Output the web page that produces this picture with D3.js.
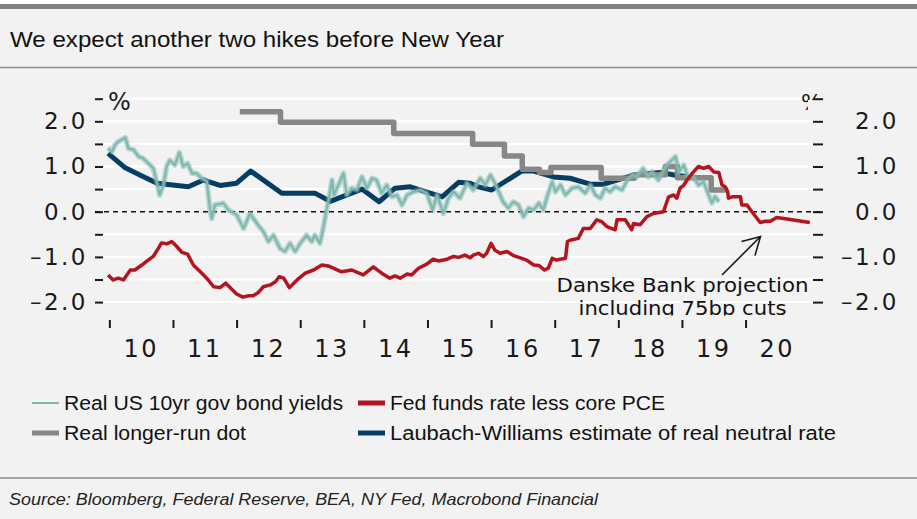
<!DOCTYPE html>
<html>
<head>
<meta charset="utf-8">
<script src="https://cdn.jsdelivr.net/npm/d3@7"></script>
<style>
  body { margin: 0; background: #f2f2f2; }
  svg { display: block; }
</style>
</head>
<body>
<div id="container"></div>
<script>
/* CONSTANTS AND GLOBALS */
const width = 917,
  height = 519,
  plot = { left: 103, right: 813, top: 98.7, bottom: 302.1 };

// DATA (decimal year, %)
const realYields10y = [
  [2009.98, 1.41], [2010.04, 1.33], [2010.09, 1.48], [2010.14, 1.55], [2010.25, 1.64],
  [2010.30, 1.40], [2010.38, 1.37], [2010.46, 1.22], [2010.53, 1.18], [2010.61, 1.07],
  [2010.69, 0.96], [2010.75, 0.63], [2010.79, 0.37], [2010.85, 0.59], [2010.90, 1.00],
  [2010.95, 1.14], [2011.03, 1.03], [2011.10, 1.31], [2011.16, 1.00], [2011.23, 1.07],
  [2011.30, 0.85], [2011.37, 0.85], [2011.45, 0.74], [2011.53, 0.68], [2011.58, 0.08],
  [2011.61, -0.15], [2011.66, 0.15], [2011.79, 0.19], [2011.87, 0.04], [2012.00, -0.07],
  [2012.11, -0.37], [2012.21, -0.04], [2012.32, -0.26], [2012.42, -0.44], [2012.50, -0.66],
  [2012.58, -0.52], [2012.68, -0.81], [2012.76, -0.88], [2012.84, -0.70], [2012.92, -0.88],
  [2013.00, -0.70], [2013.10, -0.52], [2013.18, -0.66], [2013.23, -0.52], [2013.31, -0.70],
  [2013.36, -0.37], [2013.42, 0.08], [2013.46, 0.37], [2013.50, 0.70], [2013.53, 0.37],
  [2013.60, 0.59], [2013.68, 0.85], [2013.73, 0.37], [2013.81, 0.52], [2013.89, 0.48],
  [2013.97, 0.77], [2014.05, 0.52], [2014.13, 0.74], [2014.20, 0.70], [2014.28, 0.41],
  [2014.36, 0.59], [2014.44, 0.33], [2014.52, 0.37], [2014.60, 0.15], [2014.68, 0.37],
  [2014.78, 0.44], [2014.89, 0.48], [2014.99, 0.41], [2015.08, 0.04], [2015.15, 0.37],
  [2015.25, -0.04], [2015.33, 0.30], [2015.41, 0.44], [2015.51, 0.30], [2015.62, 0.63],
  [2015.72, 0.48], [2015.83, 0.74], [2015.91, 0.59], [2015.99, 0.81], [2016.06, 0.63],
  [2016.12, 0.44], [2016.19, 0.22], [2016.27, 0.08], [2016.35, 0.22], [2016.43, 0.15],
  [2016.51, -0.11], [2016.59, 0.08], [2016.67, 0.04], [2016.75, 0.19], [2016.82, 0.04],
  [2016.89, 0.37], [2016.96, 0.66], [2017.01, 0.44], [2017.09, 0.59], [2017.17, 0.37],
  [2017.27, 0.52], [2017.37, 0.55], [2017.48, 0.41], [2017.56, 0.59], [2017.64, 0.37],
  [2017.72, 0.30], [2017.79, 0.52], [2017.87, 0.44], [2017.95, 0.55], [2018.06, 0.48],
  [2018.14, 0.70], [2018.21, 0.81], [2018.29, 0.77], [2018.39, 0.96], [2018.47, 0.77],
  [2018.53, 0.88], [2018.63, 0.70], [2018.74, 1.00], [2018.82, 1.11], [2018.90, 1.22],
  [2018.95, 0.88], [2019.03, 1.03], [2019.10, 0.74], [2019.18, 0.77], [2019.26, 0.59],
  [2019.34, 0.66], [2019.42, 0.37], [2019.47, 0.19], [2019.52, 0.33], [2019.58, 0.22]
];

const fedFundsLessPCE = [
  [2009.98, -1.40], [2010.06, -1.51], [2010.14, -1.47], [2010.22, -1.51], [2010.33, -1.29],
  [2010.40, -1.29], [2010.51, -1.18], [2010.61, -1.07], [2010.69, -0.99], [2010.77, -0.81],
  [2010.82, -0.69], [2010.90, -0.71], [2010.98, -0.66], [2011.06, -0.77], [2011.14, -0.90],
  [2011.23, -0.94], [2011.32, -1.18], [2011.43, -1.33], [2011.53, -1.47], [2011.64, -1.66],
  [2011.74, -1.68], [2011.83, -1.58], [2011.92, -1.71], [2012.00, -1.82], [2012.10, -1.89],
  [2012.19, -1.86], [2012.26, -1.86], [2012.34, -1.79], [2012.42, -1.66], [2012.53, -1.62],
  [2012.61, -1.55], [2012.67, -1.44], [2012.74, -1.47], [2012.83, -1.68], [2012.95, -1.51],
  [2013.08, -1.36], [2013.21, -1.29], [2013.34, -1.18], [2013.44, -1.20], [2013.52, -1.25],
  [2013.65, -1.33], [2013.81, -1.29], [2013.99, -1.40], [2014.15, -1.22], [2014.28, -1.36],
  [2014.41, -1.47], [2014.49, -1.42], [2014.57, -1.47], [2014.68, -1.38], [2014.75, -1.40],
  [2014.86, -1.25], [2014.99, -1.16], [2015.09, -1.05], [2015.17, -1.09], [2015.31, -1.05],
  [2015.41, -0.99], [2015.49, -1.01], [2015.59, -0.96], [2015.67, -1.02], [2015.72, -0.96],
  [2015.80, -0.92], [2015.88, -0.99], [2015.93, -0.92], [2016.00, -0.70], [2016.06, -0.85],
  [2016.14, -0.92], [2016.25, -0.88], [2016.35, -0.97], [2016.46, -1.02], [2016.56, -1.07],
  [2016.67, -1.18], [2016.75, -1.19], [2016.84, -1.29], [2016.90, -1.25], [2016.96, -1.03],
  [2017.03, -1.07], [2017.17, -1.03], [2017.20, -0.66], [2017.24, -0.63], [2017.37, -0.59],
  [2017.45, -0.37], [2017.56, -0.37], [2017.66, -0.18], [2017.74, -0.22], [2017.82, -0.33],
  [2017.95, -0.40], [2017.98, -0.18], [2018.11, -0.18], [2018.21, -0.40], [2018.24, -0.26],
  [2018.34, -0.29], [2018.45, -0.11], [2018.55, -0.04], [2018.71, 0.00], [2018.79, 0.33],
  [2018.87, 0.37], [2018.92, 0.30], [2018.97, 0.52], [2019.03, 0.59], [2019.08, 0.70],
  [2019.18, 0.88], [2019.26, 1.00], [2019.34, 0.96], [2019.42, 1.00], [2019.50, 0.88],
  [2019.58, 0.87], [2019.63, 0.59], [2019.68, 0.55], [2019.72, 0.44], [2019.73, 0.30],
  [2019.79, 0.33], [2019.92, 0.33], [2019.94, 0.15], [2020.02, 0.15], [2020.10, 0.00],
  [2020.23, -0.24], [2020.31, -0.21], [2020.39, -0.21], [2020.49, -0.13], [2020.65, -0.16],
  [2021.01, -0.24]
];

const longerRunDot = [
  [2012.05, 2.21], [2012.69, 1.98], [2014.47, 1.73], [2015.71, 1.49], [2016.21, 1.23],
  [2016.49, 0.94], [2016.76, 0.87], [2016.94, 0.98], [2017.73, 0.74], [2018.25, 0.82],
  [2018.74, 1.00], [2018.93, 0.75], [2019.46, 0.48], [2019.72, 0.48]
];

const lwNeutralRate = [
  [2009.98, 1.29], [2010.25, 0.97], [2010.48, 0.81], [2010.75, 0.63], [2011.24, 0.55],
  [2011.48, 0.70], [2011.74, 0.58], [2012.00, 0.63], [2012.22, 0.90], [2012.71, 0.41],
  [2013.23, 0.41], [2013.47, 0.23], [2013.97, 0.50], [2014.24, 0.22], [2014.49, 0.52],
  [2014.73, 0.55], [2015.23, 0.33], [2015.49, 0.65], [2015.67, 0.63], [2015.80, 0.55],
  [2016.01, 0.48], [2016.48, 0.90], [2016.67, 0.90], [2016.98, 0.77], [2017.24, 0.74],
  [2017.56, 0.61], [2017.77, 0.61], [2017.98, 0.70], [2018.24, 0.81], [2018.66, 0.87],
  [2018.92, 0.80], [2019.07, 0.78]
];

const yearTicks = [2010, 2011, 2012, 2013, 2014, 2015, 2016, 2017, 2018, 2019, 2020];
const yearLabels = ["10", "11", "12", "13", "14", "15", "16", "17", "18", "19", "20"];
const yTicks = [-2, -1.5, -1, -0.5, 0, 0.5, 1, 1.5, 2, 2.5];

const seriesNames = [
  "Real US 10yr gov bond yields",
  "Fed funds rate less core PCE",
  "Real longer-run dot",
  "Laubach-Williams estimate of real neutral rate"
];
const colors = { teal: "#7fb8af", red: "#b5141f", gray: "#878787", navy: "#063e63" };

const axisFont = "'DejaVu Sans', sans-serif";
const textFont = "'Liberation Sans', Arial, sans-serif";

/* SCALES */
const x = d3.scaleLinear().domain([2009.9, 2021.06]).range([plot.left, plot.right]);
const y = d3.scaleLinear().domain([-2, 2.5]).range([plot.bottom, plot.top]);

const svg = d3.select("#container").append("svg")
  .attr("width", width)
  .attr("height", height);

svg.append("rect").attr("width", width).attr("height", height).attr("fill", "#f2f2f2");
svg.append("rect").attr("y", 0).attr("width", width).attr("height", 4).attr("fill", "#ffffff");
svg.append("rect").attr("y", 4).attr("width", width).attr("height", 5).attr("fill", "#808080");

// TITLE
svg.append("text")
  .attr("x", 10).attr("y", 47)
  .attr("font-family", textFont).attr("font-size", 22)
  .attr("textLength", 494).attr("lengthAdjust", "spacingAndGlyphs")
  .attr("fill", "#111")
  .text("We expect another two hikes before New Year");

svg.append("line")
  .attr("x1", 0).attr("x2", width).attr("y1", 67.5).attr("y2", 67.5)
  .attr("stroke", "#8c8c8c").attr("stroke-width", 1.5);

// GRIDLINES
svg.append("g").selectAll("line")
  .data(yTicks.filter(d => d !== 0))
  .join("line")
  .attr("x1", plot.left).attr("x2", plot.right)
  .attr("y1", d => y(d)).attr("y2", d => y(d))
  .attr("stroke", "#ffffff").attr("stroke-width", 2);

// AXES
const fmt = d => (d < 0 ? "–" : "") + Math.abs(d).toFixed(1);
const labelFmt = d => Number.isInteger(d) ? fmt(d) : "";

const leftAxis = svg.append("g")
  .attr("transform", `translate(${plot.left},0)`)
  .call(d3.axisLeft(y).tickValues(yTicks).tickSize(8).tickPadding(7).tickFormat(labelFmt));

const rightAxis = svg.append("g")
  .attr("transform", `translate(${plot.right},0)`)
  .call(d3.axisRight(y).tickValues(yTicks).tickSize(10).tickFormat(labelFmt));
rightAxis.selectAll("text").attr("text-anchor", "end").attr("x", 86);

const xAxis = svg.append("g")
  .attr("transform", "translate(0,320)")
  .call(d3.axisBottom(x).tickValues(yearTicks).tickSize(8).tickFormat(""));

[leftAxis, rightAxis, xAxis].forEach(g => {
  g.select(".domain").remove();
  g.selectAll(".tick line").attr("stroke", "#1a1a1a").attr("stroke-width", 2);
  g.selectAll("text")
    .attr("font-family", axisFont).attr("font-size", 23)
    .attr("letter-spacing", "2.5px").attr("fill", "#1a1a1a");
});

svg.append("g").selectAll("text")
  .data(yearLabels)
  .join("text")
  .attr("x", (d, i) => x(yearTicks[i] + 0.5))
  .attr("y", 357)
  .attr("text-anchor", "middle")
  .attr("font-family", axisFont).attr("font-size", 24)
  .attr("letter-spacing", "2.5px").attr("fill", "#1a1a1a")
  .text(d => d);

// % UNITS
svg.append("text")
  .attr("x", 108).attr("y", 110)
  .attr("font-family", axisFont).attr("font-size", 24).attr("fill", "#1a1a1a")
  .text("%");

svg.append("clipPath").attr("id", "pctClip")
  .append("polygon")
  .attr("points", "795,85 822,85 822,100 808,100 808,118 795,118");
svg.append("text")
  .attr("x", 801).attr("y", 110)
  .attr("clip-path", "url(#pctClip)")
  .attr("font-family", axisFont).attr("font-size", 22).attr("fill", "#1a1a1a")
  .text("%");

// ZERO LINE
svg.append("line")
  .attr("x1", plot.left - 8).attr("x2", plot.right + 10)
  .attr("y1", y(0)).attr("y2", y(0))
  .attr("stroke", "#111").attr("stroke-width", 1.5)
  .attr("stroke-dasharray", "5,4");

// LINES
const lineGen = d3.line().x(d => x(d[0])).y(d => y(d[1]));

svg.append("path")
  .datum(lwNeutralRate)
  .attr("d", lineGen)
  .attr("fill", "none").attr("stroke", colors.navy)
  .attr("stroke-width", 5).attr("stroke-linejoin", "round");

svg.append("path")
  .datum(longerRunDot)
  .attr("d", lineGen.curve(d3.curveStepAfter))
  .attr("fill", "none").attr("stroke", colors.gray)
  .attr("stroke-width", 5.5).attr("stroke-linejoin", "round");
lineGen.curve(d3.curveLinear);

// noisy daily series: soft band plus core line
svg.append("path")
  .datum(realYields10y)
  .attr("d", lineGen)
  .attr("fill", "none").attr("stroke", colors.teal)
  .attr("stroke-width", 5.5).attr("stroke-opacity", 0.5)
  .attr("stroke-linejoin", "round");
svg.append("path")
  .datum(realYields10y)
  .attr("d", lineGen)
  .attr("fill", "none").attr("stroke", colors.teal)
  .attr("stroke-width", 2.2).attr("stroke-linejoin", "round");

svg.append("path")
  .datum(fedFundsLessPCE)
  .attr("d", lineGen)
  .attr("fill", "none").attr("stroke", colors.red)
  .attr("stroke-width", 3.5).attr("stroke-linejoin", "round");

// ANNOTATION
svg.append("clipPath").attr("id", "annClip")
  .append("rect").attr("x", 0).attr("y", 0).attr("width", width).attr("height", 315.5);

const ann = svg.append("g").attr("clip-path", "url(#annClip)")
  .attr("font-family", axisFont).attr("font-size", 20).attr("fill", "#111")
  .attr("text-anchor", "middle");
ann.append("text").attr("x", 682.5).attr("y", 291.5)
  .attr("textLength", 252).attr("lengthAdjust", "spacingAndGlyphs")
  .text("Danske Bank projection");
ann.append("text").attr("x", 682.5).attr("y", 314.5)
  .attr("textLength", 208).attr("lengthAdjust", "spacingAndGlyphs")
  .text("including 75bp cuts");

svg.append("line")
  .attr("x1", 722).attr("y1", 275).attr("x2", 760.5).attr("y2", 236.5)
  .attr("stroke", "#111").attr("stroke-width", 1.5);
svg.append("path")
  .attr("d", "M741.5,241.5 L760.5,236.5 L755,255.5")
  .attr("fill", "none").attr("stroke", "#111").attr("stroke-width", 1.5);

// LEGEND
const legendItems = [
  { name: seriesNames[0], color: colors.teal, w: 2, x: 32, y: 403, len: 279 },
  { name: seriesNames[1], color: colors.red, w: 5, x: 358, y: 403, len: 275 },
  { name: seriesNames[2], color: colors.gray, w: 5, x: 32, y: 433, len: 182 },
  { name: seriesNames[3], color: colors.navy, w: 5, x: 358, y: 433, len: 446 }
];
const legend = svg.append("g").selectAll("g")
  .data(legendItems)
  .join("g")
  .attr("transform", d => `translate(${d.x},${d.y})`);
legend.append("line")
  .attr("x1", 0).attr("x2", 27)
  .attr("stroke", d => d.color).attr("stroke-width", d => d.w);
legend.append("text")
  .attr("x", 32).attr("y", 7)
  .attr("font-family", textFont).attr("font-size", 20).attr("fill", "#111")
  .attr("textLength", d => d.len).attr("lengthAdjust", "spacingAndGlyphs")
  .text(d => d.name);

// SOURCE
svg.append("line")
  .attr("x1", 0).attr("x2", width).attr("y1", 478).attr("y2", 478)
  .attr("stroke", "#8c8c8c").attr("stroke-width", 1.5);
svg.append("text")
  .attr("x", 9).attr("y", 505)
  .attr("font-family", textFont).attr("font-size", 17).attr("font-style", "italic")
  .attr("fill", "#222")
  .attr("textLength", 589).attr("lengthAdjust", "spacingAndGlyphs")
  .text("Source: Bloomberg, Federal Reserve, BEA, NY Fed, Macrobond Financial");
</script>
</body>
</html>
